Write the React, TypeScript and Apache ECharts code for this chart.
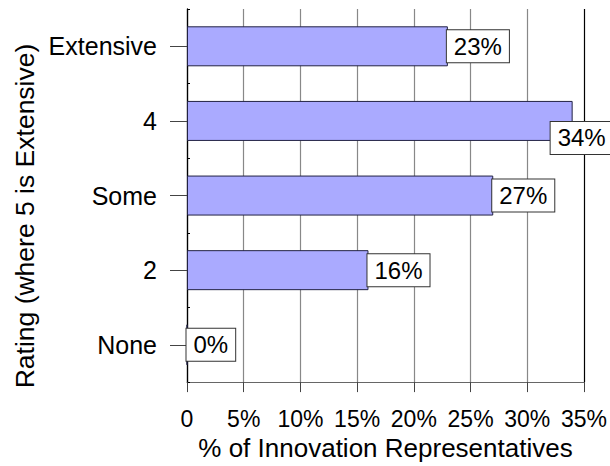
import React, { useEffect, useRef } from "react";
import * as echarts from "echarts";

// Ratings, listed bottom-to-top as the category axis draws them
const ratings = ["None", "2", "Some", "4", "Extensive"];
// Share of innovation representatives for each rating (%)
const shares = [0, 16, 27, 34, 23];
// Horizontal scale ticks (%)
const xMin = 0;
const xMax = 35;
const xStep = 5;

const xTitle = "% of Innovation Representatives";
const yTitle = "Rating (where 5 is Extensive)";

const FONT = "'Liberation Sans', Arial, sans-serif";

export default function App() {
  const ref = useRef<HTMLDivElement>(null);

  useEffect(() => {
    if (!ref.current) return;
    const chart = echarts.init(ref.current, null, { renderer: "svg" });

    const top = Math.max(...shares);
    const barData = shares.map((v) => {
      const item: any = { value: v };
      // the longest bar's label is nudged down-left so it stays inside the frame
      if (v === top) {
        item.label = { offset: [-21, 17] };
      }
      return item;
    });

    chart.setOption({
      animation: false,
      backgroundColor: "#ffffff",
      textStyle: { fontFamily: FONT },
      grid: { left: 187, right: 24, top: 9, bottom: 77, containLabel: false },
      graphic: [
        {
          type: "text",
          x: 25,
          y: 216,
          rotation: Math.PI / 2,
          style: {
            text: yTitle,
            fontSize: 26.5,
            fontFamily: FONT,
            fill: "#000",
            textAlign: "center",
            textVerticalAlign: "middle",
          },
        },
      ],
      xAxis: {
        type: "value",
        min: xMin,
        max: xMax,
        interval: xStep,
        name: xTitle,
        nameLocation: "middle",
        nameGap: 50,
        nameTextStyle: { fontSize: 26, color: "#000", fontFamily: FONT },
        axisLine: { show: true, lineStyle: { color: "#666", width: 1 } },
        axisTick: { show: true, length: 10, lineStyle: { color: "#444" } },
        axisLabel: {
          fontSize: 23,
          color: "#000",
          margin: 25,
          fontFamily: FONT,
          formatter: (v: number) => (v === 0 ? "0" : v + "%"),
        },
        splitLine: {
          show: true,
          lineStyle: {
            color: ["#888", "#888", "#888", "#888", "#888", "#888", "#888", "#000"],
            width: 1.2,
          },
        },
      },
      yAxis: [
        {
          type: "category",
          data: ratings,
          axisLine: { show: true, lineStyle: { color: "#000", width: 1.3 } },
          axisTick: {
            show: true,
            alignWithLabel: true,
            length: 17,
            lineStyle: { color: "#444" },
          },
          axisLabel: { fontSize: 25, color: "#000", margin: 30, fontFamily: FONT },
          splitLine: { show: false },
        },
        {
          // small inner marks between the rating bands
          type: "category",
          data: ratings,
          position: "left",
          axisLine: { show: false },
          axisTick: { show: true, inside: true, length: 3, lineStyle: { color: "#000" } },
          axisLabel: { show: false },
          splitLine: { show: false },
        },
      ],
      series: [
        {
          type: "bar",
          data: barData,
          barWidth: 40,
          itemStyle: {
            color: "#aaaaff",
            borderColor: "#222244",
            borderWidth: 1,
          },
          label: {
            show: true,
            position: "right",
            distance: -1,
            formatter: (p: any) => p.value + "%",
            fontSize: 24,
            color: "#000",
            fontFamily: FONT,
            backgroundColor: "#ffffff",
            borderColor: "#333",
            borderWidth: 1,
            padding: [4, 7, 4, 7],
          },
        },
      ],
    });

    return () => chart.dispose();
  }, []);

  return (
    <div
      ref={ref}
      style={{ position: "fixed", left: 0, top: 0, width: 610, height: 466, background: "#fff" }}
    />
  );
}
